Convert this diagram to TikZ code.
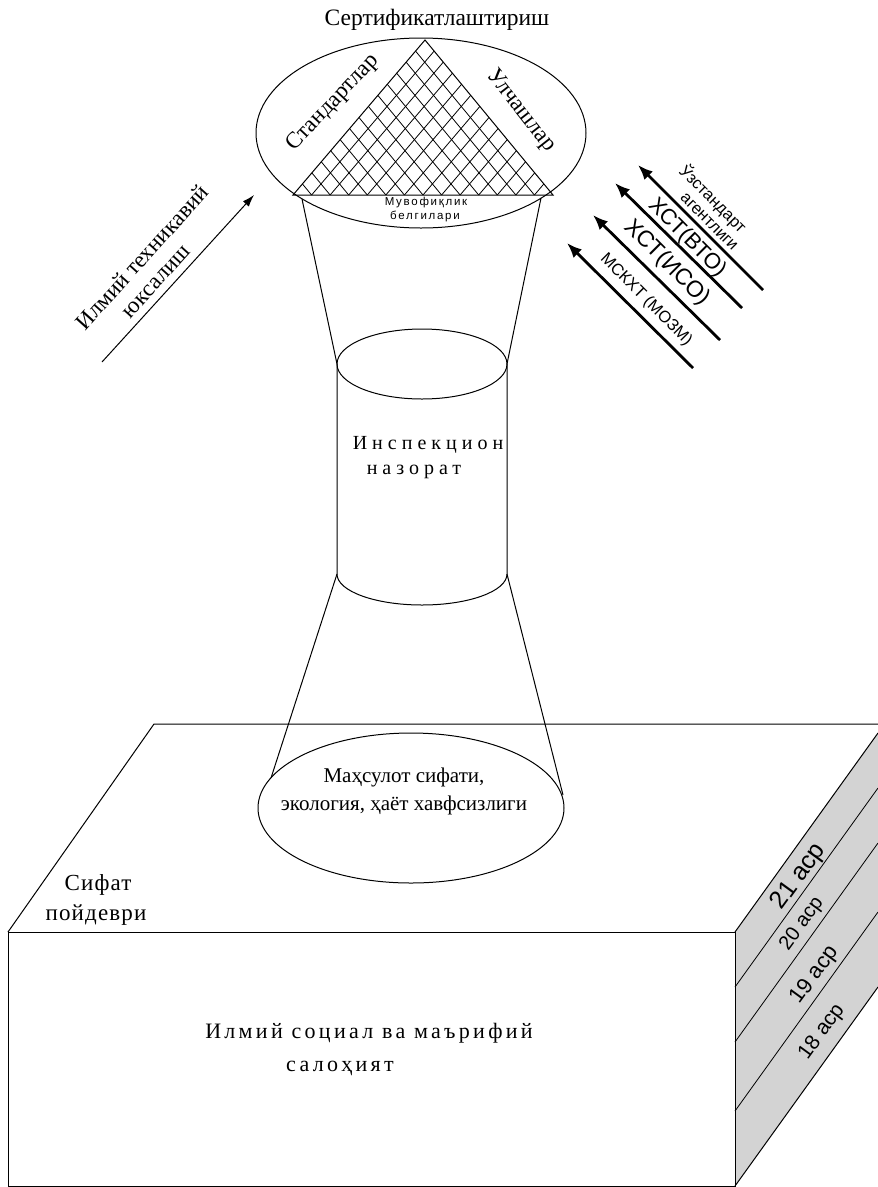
\documentclass[tikz,border=0pt]{standalone}
\usepackage{fontspec}
\setmainfont{Liberation Serif}
\newfontfamily\sansf{Liberation Sans}
\usetikzlibrary{arrows.meta}
\definecolor{sidegray}{HTML}{D3D3D3}

\begin{document}
\begin{tikzpicture}[x=1pt,y=-1pt]

\def\gap{18.57}
\def\hatchl{132}
\def\hatchr{128}
\def\hatchh{155}
\def\rise{199}
\def\run{143}

\tikzset{txt/.style={inner sep=0pt, align=center}}
\tikzset{edge/.style={line width=1pt}}
\tikzset{hatch/.style={line width=0.8pt}}
\tikzset{thinarrow/.style={line width=1pt, -{Latex[length=12pt,width=8pt]}}}
\tikzset{orgarrow/.style={line width=2.8pt, -{Latex[length=15pt,width=12pt]}}}
\tikzset{acr/.style={txt, rotate=54, font=\sansf\fontsize{#1}{#1}\selectfont}}

\useasboundingbox (0,0) rectangle (878,1187);
\clip (0,0) rectangle (878,1187);

% top
\coordinate (cert) at (421,133);
\draw[edge] (cert) ellipse [x radius=165, y radius=95];
\node[txt, font=\fontsize{23.5}{23.5}\selectfont] (certlbl) at (437,20) {Сертификатлаштириш};

\coordinate (trl) at (293,195);
\coordinate (trt) at (425,40);
\coordinate (trr) at (553,195);
\begin{scope}
\clip (trl) -- (trt) -- (trr) -- cycle;
\foreach \k in {1,...,13}{
  \draw[hatch] (293+\k*\gap,195) -- ++(\hatchl,-\hatchh);
  \draw[hatch] (293+\k*\gap,195) -- ++(-\hatchr,-\hatchh);
}
\end{scope}
\draw[edge] (trl) -- (trt) -- (trr) -- cycle;

\node[txt, rotate=47, font=\fontsize{23}{23}\selectfont] (std) at (333,103) {Стандартлар};
\node[txt, rotate=-52, font=\fontsize{23}{23}\selectfont] (meas) at (521,111) {Улчашлар};
\node[txt, font=\sansf\fontsize{11.5}{11.5}\selectfont\addfontfeature{LetterSpace=15}] (mark1) at (426,203) {Мувофиқлик};
\node[txt, font=\sansf\fontsize{11.5}{11.5}\selectfont\addfontfeature{LetterSpace=15}] (mark2) at (425,216) {белгилари};

% funnel and cylinder
\coordinate (fl) at (302,199);
\coordinate (fr) at (541,198);
\coordinate (cyl) at (422,364);
\coordinate (cyltl) at (337,364);
\coordinate (cyltr) at (507,364);
\coordinate (cylbl) at (337,574);
\coordinate (cylbr) at (507,574);
\draw[edge] (fl) -- (cyltl);
\draw[edge] (fr) -- (cyltr);
\draw[edge] (cyl) ellipse [x radius=85, y radius=35];
\draw[edge] (cyltl) -- (cylbl) arc [start angle=180, end angle=0, x radius=85, y radius=31] -- (cyltr);

\node[txt, font=\fontsize{20}{20}\selectfont\addfontfeature{LetterSpace=25}] (insp1) at (428,445) {Инспекцион};
\node[txt, font=\fontsize{20}{20}\selectfont\addfontfeature{LetterSpace=25}] (insp2) at (414,472) {назорат};

% box
\coordinate (ftl) at (8,932);
\coordinate (ftr) at (735,932);
\coordinate (fbl) at (8,1186);
\coordinate (fbr) at (735,1186);
\coordinate (btl) at (154,724);
\coordinate (btr) at (878,724);
\fill[sidegray] (ftr) -- ++(\run,-\rise) -- (878,987) -- (fbr) -- cycle;
\draw[edge] (ftl) -- (btl) -- (btr);
\draw[edge] (ftl) rectangle (fbr);
\draw[edge] (ftr) -- ++(\run,-\rise);
\draw[edge] (fbr) -- ++(\run,-\rise);
\foreach \y in {987,1042,1111}{
  \draw[line width=0.8pt] (735,\y) -- ++(\run,-\rise);
}

\node[acr=25] (c21) at (799,877) {21 аср};
\node[acr=20] (c20) at (802,924) {20 аср};
\node[acr=22] (c19) at (815,975) {19 аср};
\node[acr=21] (c18) at (822,1032) {18 аср};

\node[txt, font=\fontsize{23}{23}\selectfont\addfontfeature{LetterSpace=5}] (base1) at (98,885) {Сифат};
\node[txt, font=\fontsize{23}{23}\selectfont\addfontfeature{LetterSpace=5}] (base2) at (96,915) {пойдеври};

\node[txt, font=\fontsize{22}{22}\selectfont\addfontfeature{LetterSpace=15}] (soc1) at (369,1033) {Илмий социал ва маърифий};
\node[txt, font=\fontsize{22}{22}\selectfont\addfontfeature{LetterSpace=15}] (soc2) at (340,1068) {салоҳият};

% lower funnel
\coordinate (prodc) at (411,808);
\coordinate (pl) at (271,778);
\coordinate (pr) at (563,795);
\draw[edge] (cylbl) -- (pl);
\draw[edge] (cylbr) -- (pr);
\draw[edge] (prodc) ellipse [x radius=153, y radius=75];
\node[txt, font=\fontsize{21}{28}\selectfont] (prod) at (404,791) {Маҳсулот сифати,\\экология, ҳаёт хавфсизлиги};

% arrows
\coordinate (sciA) at (102,362);
\coordinate (sciB) at (254,195);
\draw[thinarrow] (sciA) -- (sciB);
\node[txt, rotate=48, font=\fontsize{23}{23}\selectfont] (sci1) at (142,257) {Илмий техникавий};
\node[txt, rotate=48, font=\fontsize{23}{23}\selectfont] (sci2) at (157,282) {юксалиш};

\coordinate (o1a) at (763,290);
\coordinate (o1b) at (638,165);
\coordinate (o2a) at (742,308);
\coordinate (o2b) at (615,183);
\coordinate (o3a) at (720,340);
\coordinate (o3b) at (593,215);
\coordinate (o4a) at (693,368);
\coordinate (o4b) at (567,243);
\draw[orgarrow] (o1a) -- (o1b);
\draw[orgarrow] (o2a) -- (o2b);
\draw[orgarrow] (o3a) -- (o3b);
\draw[orgarrow] (o4a) -- (o4b);

\node[txt, rotate=-45, font=\sansf\fontsize{16.5}{16.5}\selectfont] (uz1) at (713,199) {Ўзстандарт};
\node[txt, rotate=-45, font=\sansf\fontsize{16.5}{16.5}\selectfont] (uz2) at (709,222) {агентлиги};
\node[txt, rotate=-45, font=\sansf\fontsize{22}{22}\selectfont] (wto) at (687,238) {ХСТ(ВТО)};
\node[txt, rotate=-45, font=\sansf\fontsize{23}{23}\selectfont] (iso) at (667,263) {ХСТ(ИСО)};
\node[txt, rotate=-45, font=\sansf\fontsize{16.5}{16.5}\selectfont] (oiml) at (646,300) {МСКХТ (МОЗМ)};

\end{tikzpicture}
\end{document}
